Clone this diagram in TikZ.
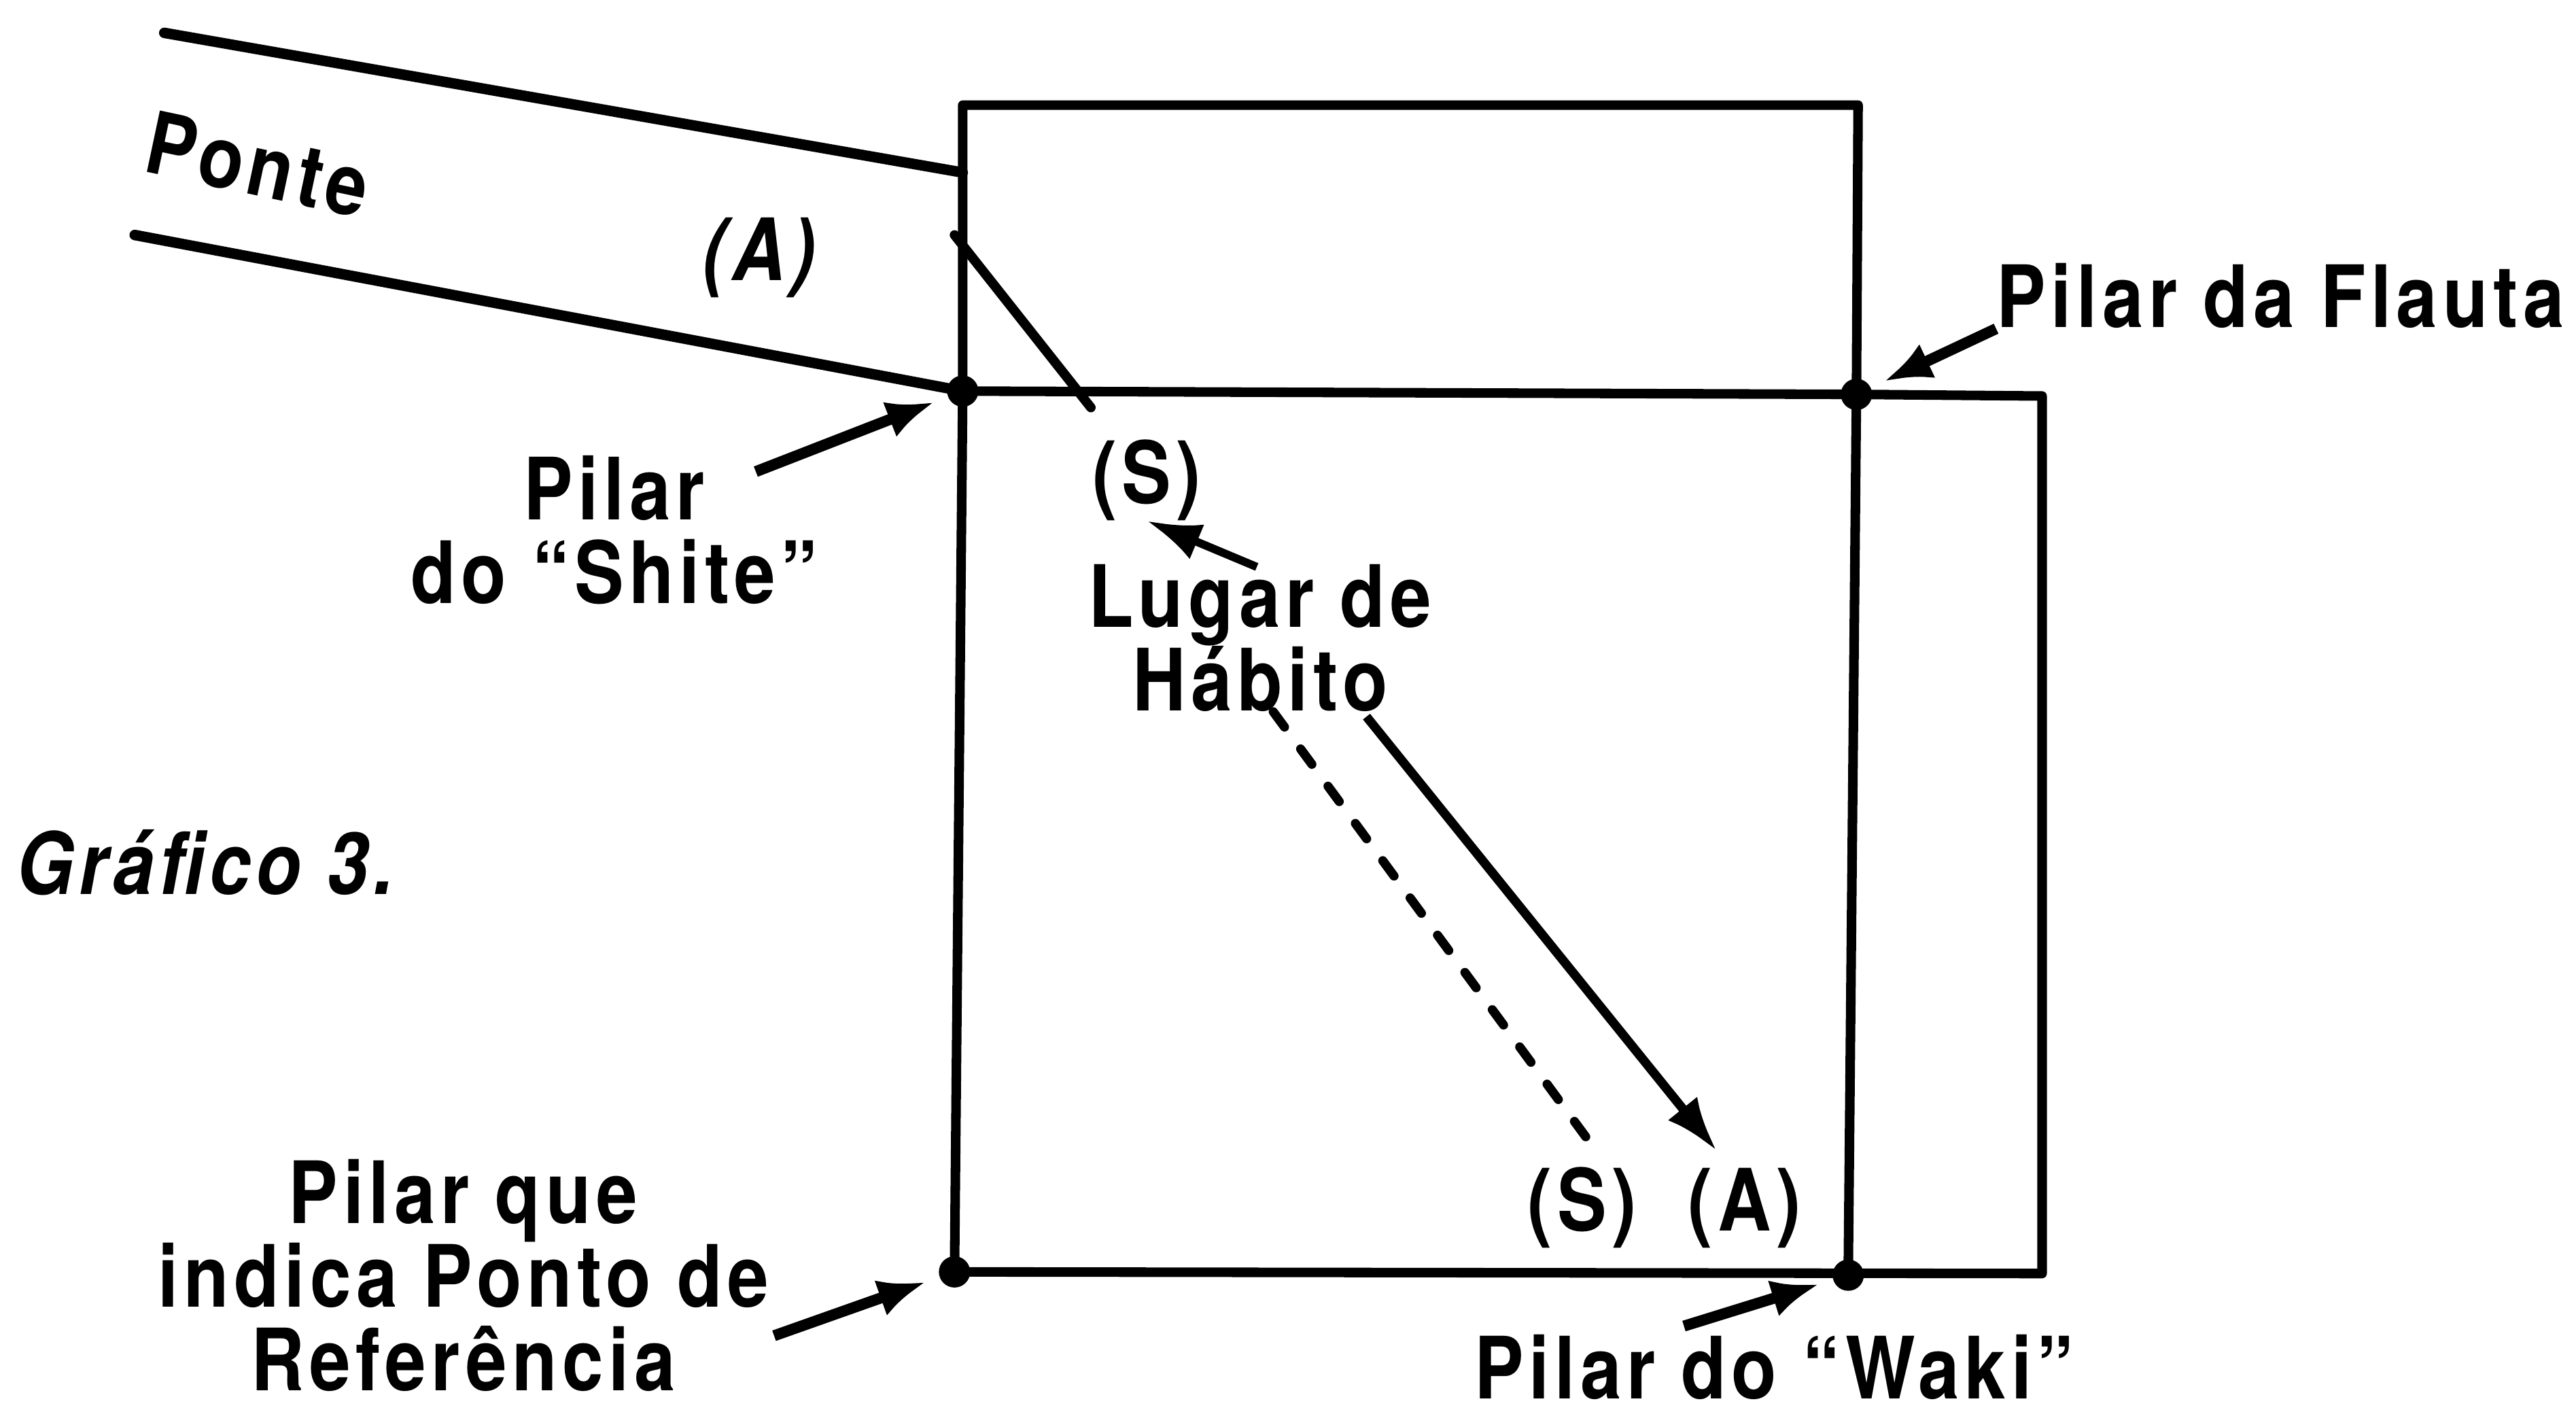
\documentclass[tikz,border=0pt]{standalone}
\usepackage{fontspec}
\setmainfont{TeX Gyre Heros}[FakeStretch=0.86,LetterSpace=6]
\usetikzlibrary{calc,arrows.meta}
\definecolor{tinta}{RGB}{0,0,0}
\newcommand{\Rotulo}{\fontsize{36}{35}\selectfont\bfseries}

\begin{document}
\begin{tikzpicture}[x=0.02417cm,y=-0.02417cm,
  palco/.style={draw=tinta,line width=4pt,line join=round,line cap=round},
  ponte/.style={draw=tinta,line width=4.4pt,line cap=round},
  seta/.style={draw=tinta,line width=4.6pt,-{Latex[length=0.7cm,width=0.55cm]},shorten >=0.45cm},
  setaPalco/.style={draw=tinta,line width=3.8pt,-{Latex[length=0.8cm,width=0.55cm]}},
  rotulo/.style={font=\Rotulo,text=tinta,inner sep=0pt,align=center},
  rotuloIt/.style={rotulo,font=\Rotulo\itshape}]
\useasboundingbox (0,0) rectangle (1568,858);
% pilares e cantos do palco
\coordinate (shite) at (586,238);
\coordinate (flauta) at (1130,240);
\coordinate (refp) at (581,774);
\coordinate (waki) at (1125,776);
\coordinate (fundoE) at (586,64);
\coordinate (fundoD) at (1131,64);
\coordinate (coroC) at (1243,241);
\coordinate (coroB) at (1243,775);
% ponte
\coordinate (ponteA) at (100,20);
\coordinate (ponteB) at (82,143);
\coordinate (ponteC) at (586,105);
\coordinate (rampaA) at (581,143);
\coordinate (rampaB) at (664,248);
\draw[palco] (shite) -- (fundoE) -- (fundoD) -- (flauta) -- (coroC) -- (coroB) -- (refp) -- cycle;
\draw[palco] (shite) -- (flauta) -- (waki);
\draw[ponte] (ponteA) -- (ponteC);
\draw[ponte] (ponteB) -- (shite);
\draw[palco] (rampaA) -- (rampaB);
\foreach \p in {shite,flauta,refp,waki}
  \fill[tinta] (\p) circle (0.23cm);
% textos
\node[rotulo,rotate=-12] (ponteTxt) at (157,100) {Ponte};
\node[rotuloIt] (aPonte) at (462,157) {(A)};
\node[rotulo,anchor=west] (flautaTxt) at (1215,180) {Pilar da Flauta};
\node[rotulo,anchor=north] (shiteTxt) at (374,277) {Pilar\\do “Shite”};
\node[rotulo] (sIni) at (698,292) {(S)};
\node[rotulo,anchor=north] (lugar) at (767,343) {Lugar de\\Hábito};
\node[rotuloIt] (grafico) at (125,525) {Gráfico 3.};
\node[rotulo] (sFim) at (963,735) {(S)};
\node[rotulo] (aFim) at (1062,735) {(A)};
\node[rotulo,anchor=north] (refTxt) at (282,705) {Pilar que\\indica Ponto de\\Referência};
\node[rotulo] (wakiTxt) at (1080,832) {Pilar do “Waki”};
% setas dos pilares
\draw[seta] (flautaTxt.south west) -- (flauta);
\draw[seta] ($(shiteTxt.north east)+(-38,10)$) -- (shite);
\draw[seta] ($(refTxt.south east)+(3,-34)$) -- (refp);
\draw[seta] ($(wakiTxt.north)+(-55,-5)$) -- (waki);
% percursos no palco
\draw[setaPalco,line width=3.4pt] ($(lugar.north)+(-2,2)$) -- (sIni.south);
\draw[setaPalco] ($(lugar.south east)+(-40,3)$) -- ($(aFim.north)+(-17,-10)$);
\draw[draw=tinta,line width=3.8pt,line cap=round,dash pattern=on 0.28cm off 0.4cm] ($(lugar.south)+(8,0)$) -- ($(sFim.north)+(12,-5)$);
\end{tikzpicture}
\end{document}
